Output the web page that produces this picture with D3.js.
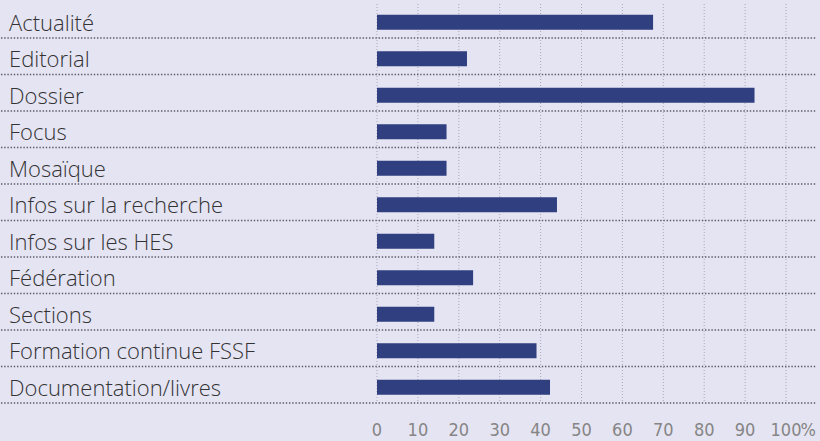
<!DOCTYPE html>
<html>
<head>
<meta charset="utf-8">
<script src="https://cdn.jsdelivr.net/npm/d3@7"></script>
<style>
  body { margin: 0; background: #e5e4f3; }
  svg { display: block; }
  .lbl { font-family: "Open Sans", sans-serif; font-size: 22px; font-weight: 300; fill: #333; }
  .tick-lbl { font-family: "DejaVu Sans", sans-serif; font-stretch: condensed; font-size: 18px; fill: #858585; }
</style>
</head>
<body>
<div id="chart"></div>
<script>
// rubriques (top to bottom) and share in %
var categories = ["Actualité", "Editorial", "Dossier", "Focus", "Mosaïque",
  "Infos sur la recherche", "Infos sur les HES", "Fédération", "Sections",
  "Formation continue FSSF", "Documentation/livres"];
var values = [67.5, 22, 92.3, 17, 17, 44, 14, 23.5, 14, 39, 42.3];
var tickValues = [0, 10, 20, 30, 40, 50, 60, 70, 80, 90, 100];

var W = 820, H = 441;
var svg = d3.select("#chart").append("svg")
  .attr("width", W).attr("height", H);

svg.append("rect").attr("width", W).attr("height", H).attr("fill", "#e5e4f3");

var x = d3.scaleLinear().domain([0, 100]).range([377, 786]);
var y = d3.scaleBand().domain(categories).range([1.5, 403]);

// vertical grid (light dotted)
svg.append("g").selectAll("line")
  .data(tickValues)
  .join("line")
    .attr("x1", function(d) { return x(d); })
    .attr("x2", function(d) { return x(d); })
    .attr("y1", 4).attr("y2", 403)
    .attr("stroke", "#a9a7b8")
    .attr("stroke-width", 1)
    .attr("stroke-dasharray", "1,2");

// row separators (dark dotted)
svg.append("g").selectAll("line")
  .data(categories)
  .join("line")
    .attr("x1", 1).attr("x2", 817)
    .attr("y1", function(d) { return y(d) + y.bandwidth(); })
    .attr("y2", function(d) { return y(d) + y.bandwidth(); })
    .attr("stroke", "#5a5966")
    .attr("stroke-width", 1.4)
    .attr("stroke-dasharray", "1.4,1.8");

// bars
svg.append("g").selectAll("rect")
  .data(categories)
  .join("rect")
    .attr("x", x(0))
    .attr("y", function(d) { return y(d) + y.bandwidth() / 2 - 5; })
    .attr("width", function(d, i) { return x(values[i]) - x(0); })
    .attr("height", 15)
    .attr("fill", "#2f3f80");

// category labels
svg.append("g").selectAll("text")
  .data(categories)
  .join("text")
    .attr("class", "lbl")
    .attr("x", 9)
    .attr("y", function(d) { return y(d) + y.bandwidth() / 2 + 11; })
    .text(function(d) { return d; });

// x axis tick labels
svg.append("g").selectAll("text")
  .data(tickValues)
  .join("text")
    .attr("class", "tick-lbl")
    .attr("x", function(d) { return x(d); })
    .attr("y", 436)
    .attr("text-anchor", "middle")
    .text(function(d) { return d; });

svg.append("text")
  .attr("class", "tick-lbl")
  .attr("x", 816)
  .attr("y", 436)
  .attr("text-anchor", "end")
  .text("%");
</script>
</body>
</html>
